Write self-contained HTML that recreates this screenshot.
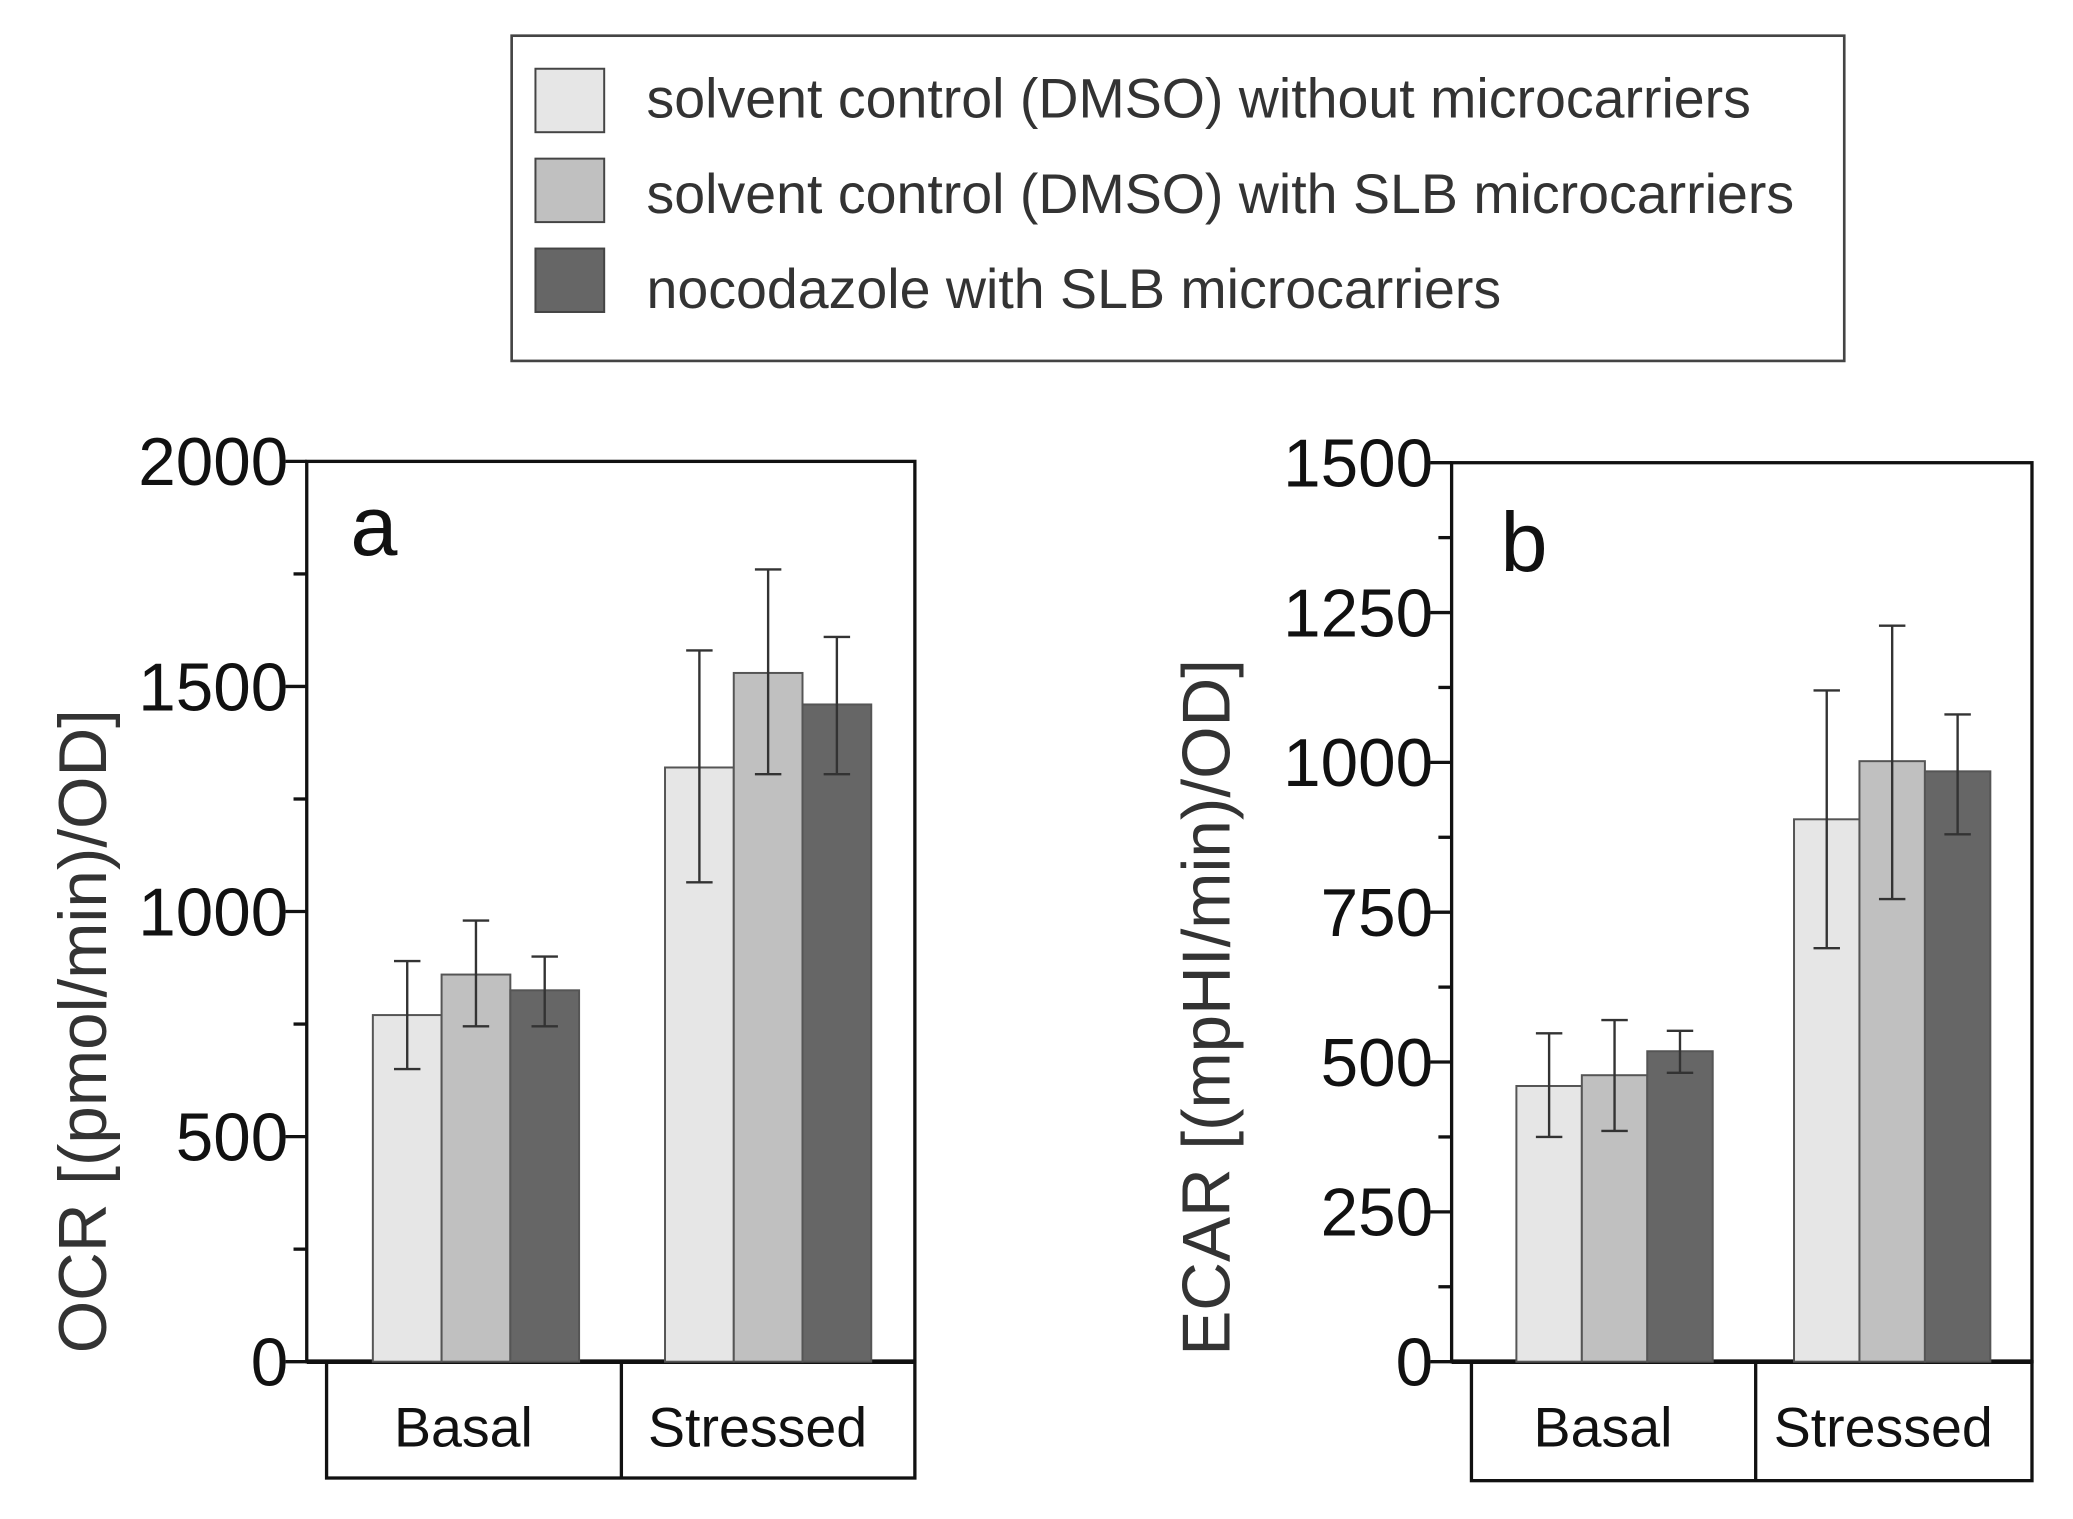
<!DOCTYPE html>
<html><head><meta charset="utf-8"><style>
html,body{margin:0;padding:0;background:#fff;}
svg{display:block;font-family:"Liberation Sans",Arial,sans-serif;}
</style></head><body>
<svg id="chart" width="2073" height="1519" viewBox="0 0 1568 1149" xmlns="http://www.w3.org/2000/svg">
<rect x="0" y="0" width="1568" height="1149" fill="#fff"/>
<g>
<rect x="387" y="27" width="1008" height="246" fill="#fff" stroke="#444" stroke-width="2"/>
<rect x="405" y="52" width="52" height="48" fill="#e6e6e6" stroke="#444" stroke-width="1.5"/>
<rect x="405" y="120" width="52" height="48" fill="#c0c0c0" stroke="#444" stroke-width="1.5"/>
<rect x="405" y="188" width="52" height="48" fill="#666" stroke="#444" stroke-width="1.5"/>
<text x="489" y="89" font-size="42" fill="#333">solvent control (DMSO) without microcarriers</text>
<text x="489" y="161" font-size="42" fill="#333">solvent control (DMSO) with SLB microcarriers</text>
<text x="489" y="233" font-size="42" fill="#333">nocodazole with SLB microcarriers</text>
</g>
<g id="pa"></g>
<g id="pb"></g>
</svg>
<script>
const groups = ["Basal", "Stressed"];
const colors = ["#e6e6e6", "#c0c0c0", "#666666"];
const ocrValues = [[770, 860, 825], [1320, 1530, 1460]];
const ocrLow = [[650, 745, 745], [1065, 1305, 1305]];
const ocrHigh = [[890, 980, 900], [1580, 1760, 1610]];
const ocrTicks = [0, 500, 1000, 1500, 2000];
const ecarValues = [[460, 478, 518], [905, 1002, 985]];
const ecarLow = [[375, 385, 482], [690, 772, 880]];
const ecarHigh = [[548, 570, 552], [1120, 1228, 1080]];
const ecarTicks = [0, 250, 500, 750, 1000, 1250, 1500];

const NS = "http://www.w3.org/2000/svg";
function mk(parent, tag, attrs, text) {
  const e = document.createElementNS(NS, tag);
  for (const k in attrs) e.setAttribute(k, attrs[k]);
  if (text !== undefined) e.textContent = text;
  parent.appendChild(e);
  return e;
}
function panel(g, cfg) {
  const y = v => cfg.y0 - (v / cfg.max) * (cfg.y0 - cfg.yTop);
  const fr = mk(g, "rect", {x: cfg.ax, y: cfg.yTop, width: cfg.right - cfg.ax, height: cfg.y0 - cfg.yTop, fill: "none", stroke: "#111", "stroke-width": 2.5});
  
  
  const cb = mk(g, "rect", {x: cfg.catLeft, y: cfg.y0, width: cfg.right - cfg.catLeft, height: cfg.catH, fill: "none", stroke: "#111", "stroke-width": 2.5});
  
  
  mk(g, "line", {x1: cfg.div, x2: cfg.div, y1: cfg.y0, y2: cfg.y0 + cfg.catH, stroke: "#111", "stroke-width": 2.5});
  mk(g, "line", {x1: cfg.ax, x2: cfg.right, y1: cfg.y0, y2: cfg.y0, stroke: "#111", "stroke-width": 3.5});
  const step = cfg.ticks[1] - cfg.ticks[0];
  for (let v = 0; v <= cfg.max + 0.01; v += step / 2) {
    const major = cfg.ticks.includes(v);
    mk(g, "line", {x1: cfg.ax - (major ? 16 : 10), x2: cfg.ax, y1: y(v), y2: y(v), stroke: "#111", "stroke-width": 2.5});
  }
  cfg.ticks.forEach(t => {
    const tl = mk(g, "text", {x: cfg.ax - 14, y: y(t) + 18, "font-size": 51, "text-anchor": "end", fill: "#111"}, String(t));
    
    
  });
  groups.forEach((gname, gi) => {
    cfg.vals[gi].forEach((v, si) => {
      const x = cfg.gStart[gi] + si * cfg.bw;
      const b = mk(g, "rect", {x: x, y: y(v), width: cfg.bw, height: cfg.y0 - y(v), fill: colors[si], stroke: "#555", "stroke-width": 1.5});
      
      
      const cx = x + cfg.bw / 2;
      const eb = mk(g, "g", {stroke: "#333", "stroke-width": 1.8});
      
      
      mk(eb, "line", {x1: cx, x2: cx, y1: y(cfg.lo[gi][si]), y2: y(cfg.hi[gi][si])});
      mk(eb, "line", {x1: cx - 10, x2: cx + 10, y1: y(cfg.lo[gi][si]), y2: y(cfg.lo[gi][si])});
      mk(eb, "line", {x1: cx - 10, x2: cx + 10, y1: y(cfg.hi[gi][si]), y2: y(cfg.hi[gi][si])});
    });
    const cx = (gi === 0 ? (cfg.catLeft + cfg.div) / 2 : (cfg.div + cfg.right) / 2) - 8;
    const cl = mk(g, "text", {x: cx, y: cfg.y0 + 64, "font-size": 42, "text-anchor": "middle", fill: "#111"}, gname);
    
    
  });
  const yt = mk(g, "text", {x: 0, y: 0, "font-size": 51, "text-anchor": "middle", fill: "#333", transform: "translate(" + cfg.titleX + "," + cfg.titleY + ") rotate(-90)"}, cfg.title);
  
  
  const pl = mk(g, "text", {x: cfg.letterX, y: cfg.letterY, "font-size": 64, fill: "#111"}, cfg.letter);
  
  
}
panel(document.getElementById("pa"), {
  ax: 232, right: 692, yTop: 349, y0: 1030, max: 2000, ticks: ocrTicks,
  catLeft: 247, catH: 88, div: 470, gStart: [282, 503], bw: 52,
  vals: ocrValues, lo: ocrLow, hi: ocrHigh,
  title: "OCR [(pmol/min)/OD]", titleX: 80, titleY: 780, letter: "a", letterX: 265, letterY: 420
});
panel(document.getElementById("pb"), {
  ax: 1098, right: 1537, yTop: 350, y0: 1030, max: 1500, ticks: ecarTicks,
  catLeft: 1113, catH: 90, div: 1328, gStart: [1147, 1357], bw: 49.5,
  vals: ecarValues, lo: ecarLow, hi: ecarHigh,
  title: "ECAR [(mpHI/min)/OD]", titleX: 930, titleY: 762, letter: "b", letterX: 1135, letterY: 432
});
</script>
</body></html>
